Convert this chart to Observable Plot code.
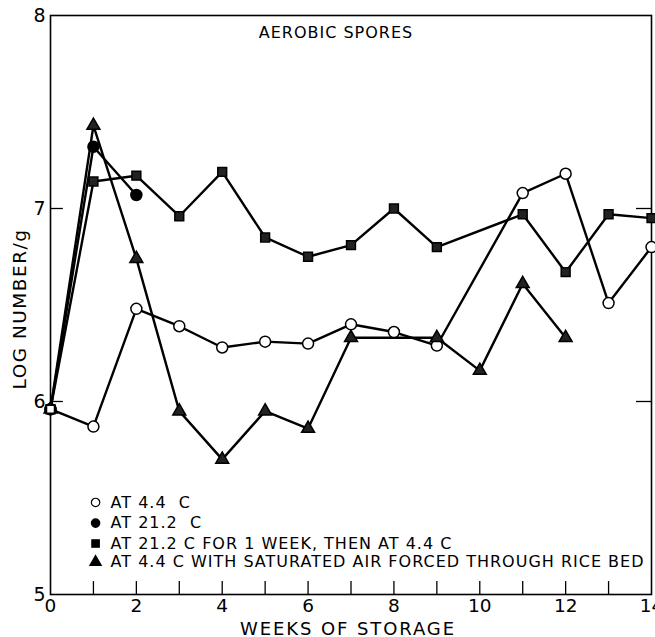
<!DOCTYPE html>
<html><head><meta charset="utf-8">
<script src="https://cdn.jsdelivr.net/npm/d3@7"></script>
<script src="https://cdn.jsdelivr.net/npm/@observablehq/plot@0.6"></script>
<style>body{margin:0;background:#fff} svg{display:block}</style>
</head><body><div id="chart"></div><script>
// ---- data ----
const weeksOpen = [0,1,2,3,4,5,6,7,8,9,11,12,13,14];
const valuesOpen = [5.96,5.87,6.48,6.39,6.28,6.31,6.30,6.40,6.36,6.29,7.08,7.18,6.51,6.80];
const weeksFilled = [0,1,2];
const valuesFilled = [5.96,7.32,7.07];
const weeksSquare = [0,1,2,3,4,5,6,7,8,9,11,12,13,14];
const valuesSquare = [5.96,7.14,7.17,6.96,7.19,6.85,6.75,6.81,7.00,6.80,6.97,6.67,6.97,6.95];
const weeksTriangle = [0,1,2,3,4,5,6,7,9,10,11,12];
const valuesTriangle = [5.96,7.43,6.74,5.95,5.70,5.95,5.86,6.33,6.33,6.16,6.61,6.33];
const startWeek = [0];
const startValue = [5.96];

const legendLabels = [
  "AT 4.4  C",
  "AT 21.2  C",
  "AT 21.2 C FOR 1 WEEK, THEN AT 4.4 C",
  "AT 4.4 C WITH SATURATED AIR FORCED THROUGH RICE BED"
];
const legendSymbols = ["circle","circle","square","triangle"];
const legendFills = ["white","black","black","black"];
const legendValues = [5.477, 5.370, 5.264, 5.168];

const xTickLabels = [0,2,4,6,8,10,12,14];
const xTickMarks = [1,2,3,4,5,6,7,8,9,10,11,12,13];
const yTickLabels = [5,6,7,8];
const yTickMarks = [6,7];
const titleText = "AEROBIC SPORES";
const xLabel = "WEEKS OF STORAGE";
const yLabel = "LOG NUMBER/g";

const toRows = (ws, vs) => ws.map((w, i) => ({week: w, value: vs[i]}));
const open = toRows(weeksOpen, valuesOpen);
const filled = toRows(weeksFilled, valuesFilled);
const square = toRows(weeksSquare, valuesSquare);
const tri = toRows(weeksTriangle, valuesTriangle);
const start = toRows(startWeek, startValue);
const legend = legendLabels.map((t, i) => ({text: t, symbol: legendSymbols[i], fill: legendFills[i], value: legendValues[i]}));

const lineOpts = {x: "week", y: "value", stroke: "black", strokeWidth: 2.4};
const font = "DejaVu Sans, sans-serif";

const chart = Plot.plot({
  width: 655, height: 637,
  marginLeft: 50, marginRight: 4, marginTop: 15, marginBottom: 43,
  x: {domain: [0, 14]},
  y: {domain: [5, 8]},
  style: {fontFamily: font, background: "white", color: "black"},
  marks: [
    Plot.frame({stroke: "black", strokeWidth: 1.6}),
    Plot.axisX({ticks: xTickLabels, tickSize: 0, tickPadding: 4, fontSize: 18.5, label: null, tickFormat: d => d}),
    Plot.axisY({ticks: yTickLabels, tickSize: 0, tickPadding: 5, fontSize: 19, label: null, tickFormat: d => d}),
    Plot.ruleX(xTickMarks, {x: d => d, y1: 5, y2: 5.067, stroke: "black", strokeWidth: 1.3}),
    Plot.ruleY(yTickMarks, {y: d => d, x1: 0, x2: 0.3, stroke: "black", strokeWidth: 1.3}),
    Plot.ruleY(yTickMarks, {y: d => d, x1: 13.65, x2: 14, stroke: "black", strokeWidth: 1.3}),
    Plot.text([xLabel], {text: d => d, frameAnchor: "bottom", textAnchor: "middle", lineAnchor: "middle", dy: 34.5, dx: -3, fontSize: 18}),
    Plot.text([yLabel], {text: d => d, frameAnchor: "left", textAnchor: "middle", lineAnchor: "middle", rotate: -90, dx: -30, dy: 4, fontSize: 18.5}),
    Plot.text([titleText], {text: d => d, x: 6.65, y: 7.912, fontSize: 16}),
    Plot.line(open, lineOpts),
    Plot.line(filled, lineOpts),
    Plot.line(square, lineOpts),
    Plot.line(tri, lineOpts),
    Plot.dot(open, {x: "week", y: "value", symbol: "circle", r: 5.5, fill: "white", stroke: "black", strokeWidth: 1.5}),
    Plot.dot(filled, {x: "week", y: "value", symbol: "circle", r: 5.5, fill: "black", stroke: "black"}),
    Plot.dot(square, {x: "week", y: "value", symbol: "square", r: 5, fill: "#222", stroke: "black"}),
    Plot.dot(tri, {x: "week", y: "value", symbol: "triangle", r: 4.8, fill: "#222", stroke: "black"}),
    Plot.dot(start, {x: "week", y: "value", symbol: "square", r: 4.5, fill: "white", stroke: "black", strokeWidth: 1.5}),
    Plot.dot(legend, {x: 1.05, y: "value", symbol: "symbol", r: 4.2, fill: "fill", stroke: "black", strokeWidth: 1.2}),
    Plot.text(legend, {x: 1.4, y: "value", text: "text", textAnchor: "start", fontSize: 16})
  ]
});
// letter spacing for the wide lettering of the original (text mark groups in mark order)
const spacing = [1.9, 1.5, 1.0, 1.0];
d3.select(chart).selectAll('g[aria-label="text"]').each(function(_, i) {
  d3.select(this).style("letter-spacing", (spacing[i] ?? 1) + "px");
});
document.getElementById("chart").appendChild(chart);
</script></body></html>
